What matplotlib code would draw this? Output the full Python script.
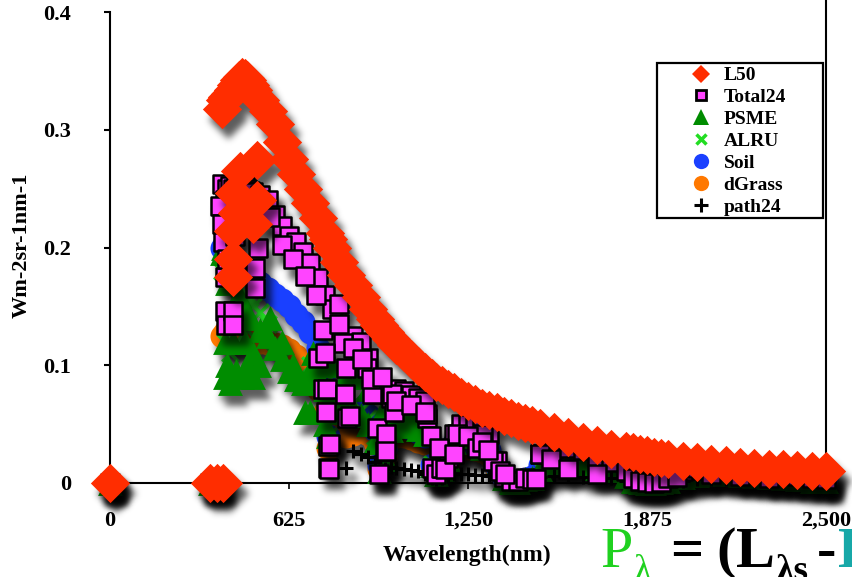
import numpy as np
import matplotlib
matplotlib.use('Agg')
import matplotlib.pyplot as plt
from matplotlib.lines import Line2D
from matplotlib.patches import Rectangle

plt.rcParams['font.family'] = ['Liberation Serif', 'DejaVu Serif']
plt.rcParams['font.weight'] = 'bold'

# wavelength grid (nm) shared by the spectra
wavelength = [0, 350, 375,
              390, 400, 410, 420, 430, 440, 450, 460, 470, 480, 490, 500,
              525, 550, 575, 600, 625, 650, 675, 700, 725, 750, 760, 775, 800, 825, 850, 875, 900, 925, 940, 960, 980, 1000,
              1025, 1050, 1075, 1100, 1125, 1140, 1160, 1180, 1200, 1225, 1250, 1275, 1300, 1325, 1350, 1375, 1400, 1425, 1450, 1475,
              1500, 1550, 1600, 1650, 1700, 1750, 1800, 1825, 1850, 1875, 1900, 1925, 1950, 2000, 2050, 2100, 2150, 2200, 2250, 2300, 2350, 2400, 2450, 2500]

l50 = [0, 0, 0,
       0.318, 0.325, 0.328, 0.330, 0.334, 0.338, 0.342, 0.345, 0.344, 0.342, 0.338, 0.334,
       0.325, 0.316, 0.305, 0.290, 0.275, 0.262, 0.250, 0.238, 0.225, 0.212, 0.207, 0.200, 0.188, 0.177, 0.168, 0.158, 0.148, 0.139, 0.134, 0.128, 0.122, 0.117,
       0.111, 0.105, 0.099, 0.094, 0.089, 0.086, 0.083, 0.080, 0.077, 0.073, 0.070, 0.067, 0.064, 0.062, 0.060, 0.057, 0.055, 0.053, 0.051, 0.049,
       0.047, 0.043, 0.039, 0.035, 0.032, 0.029, 0.027, 0.026, 0.025, 0.024, 0.022, 0.021, 0.020, 0.019, 0.018, 0.016, 0.015, 0.014, 0.013, 0.012, 0.0115, 0.011, 0.0105, 0.010]

total24 = [0, 0, 0,
           0.254, 0.240, 0.250, 0.252, 0.250, 0.253, 0.253, 0.250, 0.252, 0.250, 0.248, 0.247,
           0.245, 0.240, 0.228, 0.218, 0.210, 0.205, 0.196, 0.187, 0.174, 0.160, 0.013, 0.148, 0.152, 0.098, 0.125, 0.120, 0.106, 0.076, 0.008, 0.027, 0.072, 0.080,
           0.078, 0.075, 0.072, 0.070, 0.013, 0.008, 0.013, 0.021, 0.042, 0.050, 0.050, 0.048, 0.047, 0.042, 0.019, 0.005, 0.002, 0.002, 0.004, 0.003,
           0.025, 0.030, 0.030, 0.028, 0.022, 0.018, 0.010, 0.004, 0.002, 0.001, 0.000, 0.001, 0.004, 0.010, 0.013, 0.014, 0.013, 0.012, 0.011, 0.009, 0.007, 0.006, 0.004, 0.003]

psme = [0, 0, 0,
        0.195, 0.090, 0.170, 0.085, 0.150, 0.095, 0.160, 0.090, 0.145, 0.100, 0.140, 0.110,
        0.130, 0.125, 0.115, 0.105, 0.095, 0.088, 0.085, 0.095, 0.090, 0.080, 0.040, 0.075, 0.070, 0.060, 0.062, 0.058, 0.050, 0.035, 0.010, 0.020, 0.045, 0.050,
        0.050, 0.048, 0.046, 0.042, 0.015, 0.008, 0.012, 0.020, 0.035, 0.040, 0.042, 0.040, 0.038, 0.032, 0.015, 0.004, 0.001, 0.001, 0.003, 0.004,
        0.012, 0.016, 0.017, 0.015, 0.013, 0.011, 0.006, 0.002, 0.001, 0.000, 0.000, 0.001, 0.002, 0.005, 0.007, 0.008, 0.008, 0.007, 0.006, 0.005, 0.004, 0.003, 0.002, 0.002]

alru = [0, 0, 0,
        0.180, 0.120, 0.175, 0.110, 0.170, 0.120, 0.165, 0.125, 0.160, 0.130, 0.158, 0.150,
        0.145, 0.135, 0.120, 0.105, 0.095, 0.088, 0.082, 0.100, 0.092, 0.085, 0.040, 0.080, 0.075, 0.065, 0.068, 0.062, 0.055, 0.040, 0.012, 0.022, 0.048, 0.052,
        0.052, 0.050, 0.048, 0.044, 0.016, 0.009, 0.013, 0.022, 0.036, 0.042, 0.044, 0.042, 0.040, 0.034, 0.016, 0.005, 0.001, 0.001, 0.003, 0.005,
        0.013, 0.017, 0.018, 0.016, 0.014, 0.012, 0.007, 0.002, 0.001, 0.000, 0.000, 0.001, 0.003, 0.006, 0.008, 0.009, 0.009, 0.008, 0.007, 0.006, 0.005, 0.004, 0.003, 0.002]

soil = [0, 0, 0,
        0.200, 0.205, 0.200, 0.195, 0.190, 0.188, 0.185, 0.182, 0.180, 0.178, 0.176, 0.174,
        0.170, 0.165, 0.160, 0.155, 0.150, 0.143, 0.137, 0.128, 0.115, 0.095, 0.040, 0.075, 0.065, 0.060, 0.058, 0.060, 0.058, 0.045, 0.015, 0.030, 0.050, 0.052,
        0.050, 0.046, 0.043, 0.040, 0.015, 0.008, 0.013, 0.022, 0.034, 0.036, 0.035, 0.034, 0.032, 0.028, 0.014, 0.004, 0.001, 0.001, 0.003, 0.005,
        0.015, 0.018, 0.019, 0.018, 0.016, 0.014, 0.008, 0.003, 0.001, 0.000, 0.000, 0.001, 0.003, 0.007, 0.009, 0.010, 0.010, 0.009, 0.008, 0.007, 0.006, 0.005, 0.004, 0.003]

dgrass = [0, 0, 0,
          0.125, 0.128, 0.126, 0.125, 0.124, 0.124, 0.123, 0.123, 0.122, 0.122, 0.121, 0.121,
          0.120, 0.119, 0.118, 0.116, 0.113, 0.108, 0.103, 0.095, 0.080, 0.060, 0.030, 0.050, 0.045, 0.040, 0.042, 0.044, 0.042, 0.035, 0.012, 0.022, 0.038, 0.040,
          0.040, 0.038, 0.036, 0.034, 0.012, 0.007, 0.010, 0.018, 0.028, 0.030, 0.030, 0.029, 0.027, 0.024, 0.012, 0.004, 0.001, 0.001, 0.003, 0.004,
          0.013, 0.016, 0.017, 0.016, 0.014, 0.012, 0.007, 0.002, 0.001, 0.000, 0.000, 0.001, 0.003, 0.006, 0.008, 0.009, 0.009, 0.008, 0.007, 0.006, 0.005, 0.004, 0.003, 0.002]

path24 = [0, 0, 0,
          0.250, 0.238, 0.246, 0.248, 0.246, 0.249, 0.248, 0.246, 0.247, 0.245, 0.243, 0.242,
          0.240, 0.234, 0.223, 0.213, 0.205, 0.200, 0.191, 0.182, 0.170, 0.156, 0.013, 0.144, 0.147, 0.013, 0.027, 0.025, 0.022, 0.018, 0.010, 0.012, 0.014, 0.013,
          0.012, 0.011, 0.010, 0.008, 0.004, 0.003, 0.004, 0.006, 0.008, 0.008, 0.008, 0.007, 0.007, 0.006, 0.003, 0.001, 0.000, 0.000, 0.001, 0.002,
          0.005, 0.006, 0.006, 0.005, 0.005, 0.004, 0.002, 0.001, 0.000, 0.000, 0.000, 0.000, 0.001, 0.002, 0.003, 0.003, 0.003, 0.003, 0.002, 0.002, 0.002, 0.001, 0.001, 0.001]

# extra noisy readings in the blue end and the absorption bands
l50_extra_wl = [395, 430, 430, 430, 432, 445, 455, 500, 515, 515]
l50_extra = [0, 0.175, 0.190, 0.214, 0.246, 0.229, 0.265, 0.220, 0.240, 0.274]

total24_extra_wl = [385, 390, 395, 400, 400, 405, 410, 430, 430, 435, 507, 507, 517,
                    727, 745, 758, 762, 769, 815, 822, 829, 839, 898, 916, 933, 962, 962,
                    986, 1108, 1108, 1154, 1213, 1304, 1339, 1486, 1503, 1540, 1600, 1700,
                    1980, 2100, 2200, 2300,
                    560, 600, 640, 680, 720, 745, 750, 755, 765, 800, 850, 880, 910, 950, 990, 1000,
                    1050, 1100, 1120, 1150, 1170, 1200, 1250, 1280, 1300, 1320, 1360, 1380]
total24_extra = [0.235, 0.220, 0.205, 0.175, 0.146, 0.134, 0.190, 0.146, 0.134, 0.210, 0.183, 0.166, 0.200,
                 0.106, 0.080, 0.080, 0.031, 0.033, 0.119, 0.076, 0.055, 0.057, 0.098, 0.076, 0.047, 0.042, 0.027,
                 0.076, 0.055, 0.059, 0.013, 0.042, 0.042, 0.019, 0.003, 0.025, 0.020, 0.012, 0.008,
                 0.005, 0.008, 0.006, 0.004,
                 0.226, 0.202, 0.190, 0.176, 0.160, 0.130, 0.110, 0.060, 0.012, 0.135, 0.115, 0.105, 0.088, 0.090, 0.060, 0.070,
                 0.066, 0.060, 0.040, 0.030, 0.012, 0.025, 0.040, 0.030, 0.035, 0.028, 0.010, 0.008]

psme_extra_wl = [395, 400, 410, 430, 470, 500, 520, 560, 600, 640, 680, 700, 710, 730, 750,
                 780, 800, 820, 850, 870, 900, 950, 980, 1020, 1060, 1200, 1280, 1300]
psme_extra = [0.200, 0.120, 0.100, 0.120, 0.120, 0.090, 0.100, 0.140, 0.120, 0.100, 0.060, 0.060, 0.110, 0.100, 0.050,
              0.100, 0.060, 0.090, 0.100, 0.090, 0.080, 0.060, 0.070, 0.060, 0.060, 0.045, 0.050, 0.030]

x_ticks = [0, 625, 1250, 1875, 2500]
x_tick_labels = ['0', '625', '1,250', '1,875', '2,500']
y_ticks = [0, 0.1, 0.2, 0.3, 0.4]
y_tick_labels = ['0', '0.1', '0.2', '0.3', '0.4']

RED = '#ff2d00'
MAGENTA = '#ff44ff'
DKGREEN = '#008c00'
LIME = '#22dd22'
BLUE = '#1a40ff'
ORANGE = '#ff7800'


def gauss_blur(a, sigma):
    r = int(3 * sigma)
    k = np.exp(-0.5 * (np.arange(-r, r + 1) / sigma) ** 2)
    k /= k.sum()
    p = np.pad(a, ((r, r), (0, 0)))
    out = np.zeros_like(a)
    for i, w in enumerate(k):
        out += w * p[i:i + a.shape[0]]
    p = np.pad(out, ((0, 0), (r, r)))
    out2 = np.zeros_like(a)
    for i, w in enumerate(k):
        out2 += w * p[:, i:i + a.shape[1]]
    return out2


class DropShadow:
    # agg filter: blurred, offset, dark copy of whatever the artist drew
    def __init__(self, sigma=2.5, alpha=0.8, dx=3, dy=5):
        self.sigma, self.alpha, self.dx, self.dy = sigma, alpha, dx, dy

    def __call__(self, im, dpi):
        pad = int(3 * self.sigma) + max(self.dx, self.dy) + 1
        src = np.pad(im, ((pad, pad), (pad, pad), (0, 0)))
        a = gauss_blur(src[:, :, 3], self.sigma) * self.alpha
        a = np.roll(np.roll(a, self.dy, axis=0), self.dx, axis=1)
        out = np.zeros_like(src)
        out[:, :, 3] = np.clip(a, 0, 1)
        return out, -pad, -pad


fig = plt.figure(figsize=(8.52, 5.77), dpi=100)
ax = fig.add_axes([110 / 852, 1 - 483 / 577, 716 / 852, 483 / 577])


def draw_series(x, y, z, **kw):
    shadow = ax.scatter(x, y, zorder=z - 0.5, clip_on=False, **kw)
    shadow.set_agg_filter(DropShadow())
    ax.scatter(x, y, zorder=z, clip_on=False, **kw)


draw_series(wavelength, dgrass, 3, marker='o', s=300, color=ORANGE, linewidths=0)
draw_series(wavelength, soil, 4, marker='o', s=300, color=BLUE, linewidths=0)
draw_series(wavelength, alru, 5, marker='x', s=140, color=LIME, linewidths=2.5)
draw_series(wavelength + psme_extra_wl, psme + psme_extra, 6, marker='^', s=320, color=DKGREEN, linewidths=0)
draw_series(wavelength, path24, 7, marker='+', s=90, color='black', linewidths=2.2)
draw_series(wavelength + total24_extra_wl, total24 + total24_extra, 8,
            marker='s', s=180, facecolor=MAGENTA, edgecolor='black', linewidths=1.8)
draw_series(wavelength + l50_extra_wl, l50 + l50_extra, 9, marker='D', s=400, color=RED, linewidths=0)

ax.set_xlim(0, 2500)
ax.set_ylim(0, 0.4 * 483 / 471)
ax.spines['top'].set_visible(False)
ax.spines['left'].set_bounds(0, 0.4)
for sp in ax.spines.values():
    sp.set_linewidth(1.5)
    sp.set_zorder(2)
ax.set_xticks(x_ticks)
ax.set_xticklabels(x_tick_labels)
ax.set_yticks(y_ticks)
ax.set_yticklabels(y_tick_labels)
ax.tick_params(axis='y', direction='out', length=4, width=1.5, pad=24, labelsize=16)
ax.tick_params(axis='x', direction='out', length=4, width=1.2, pad=16, labelsize=16)
ax.set_xlabel('Wavelength(nm)', fontsize=17, fontweight='bold')
ax.set_ylabel('Wm-2sr-1nm-1', fontsize=16, fontweight='bold')
ax.xaxis.set_label_coords(357 / 716, -62 / 483)
ax.yaxis.set_label_coords(-78 / 716, 238 / 483)

handles = [
    Line2D([], [], ls='none', marker='D', ms=9, color=RED, mew=0),
    Line2D([], [], ls='none', marker='s', ms=7, mfc=MAGENTA, mec='black', mew=2),
    Line2D([], [], ls='none', marker='^', ms=11, color=DKGREEN, mew=0),
    Line2D([], [], ls='none', marker='x', ms=7, color=LIME, mew=2.5),
    Line2D([], [], ls='none', marker='o', ms=11, color=BLUE, mew=0),
    Line2D([], [], ls='none', marker='o', ms=11, color=ORANGE, mew=0),
    Line2D([], [], ls='none', marker='+', ms=10, color='black', mew=2.2),
]
labels = ['L50', 'Total24', 'PSME', 'ALRU', 'Soil', 'dGrass', 'path24']
fig.legend(handles, labels, loc='upper left', bbox_to_anchor=(680 / 852, 1 - 57 / 577),
           frameon=False, prop={'family': 'Liberation Serif', 'weight': 'bold', 'size': 14},
           handlelength=1.2, handletextpad=0.55, labelspacing=0.22, borderpad=0)
fig.patches.append(Rectangle((657 / 852, 1 - 218 / 577), 166 / 852, 155 / 577,
                             transform=fig.transFigure, fill=False, lw=1.6, ec='black', zorder=10))

# equation fragment along the bottom edge
GREEN = '#1fd11f'
TEAL = '#17a8a8'
base = 1 - 567 / 577
sub = 1 - 581 / 577
fig.text(600 / 852, base, 'P', color=GREEN, fontsize=42, fontweight='normal')
fig.text(634 / 852, sub, 'λ', color=GREEN, fontsize=27, fontweight='normal')
fig.text(670 / 852, base, '=', color='black', fontsize=42)
fig.text(716 / 852, base, '(', color='black', fontsize=42)
fig.text(736 / 852, base, 'L', color='black', fontsize=42)
fig.text(775 / 852, sub, 'λs', color='black', fontsize=27)
fig.text(817 / 852, base, '-', color='black', fontsize=42)
fig.text(838 / 852, base, 'L', color=TEAL, fontsize=42)

fig.savefig('out.png', dpi=100)
